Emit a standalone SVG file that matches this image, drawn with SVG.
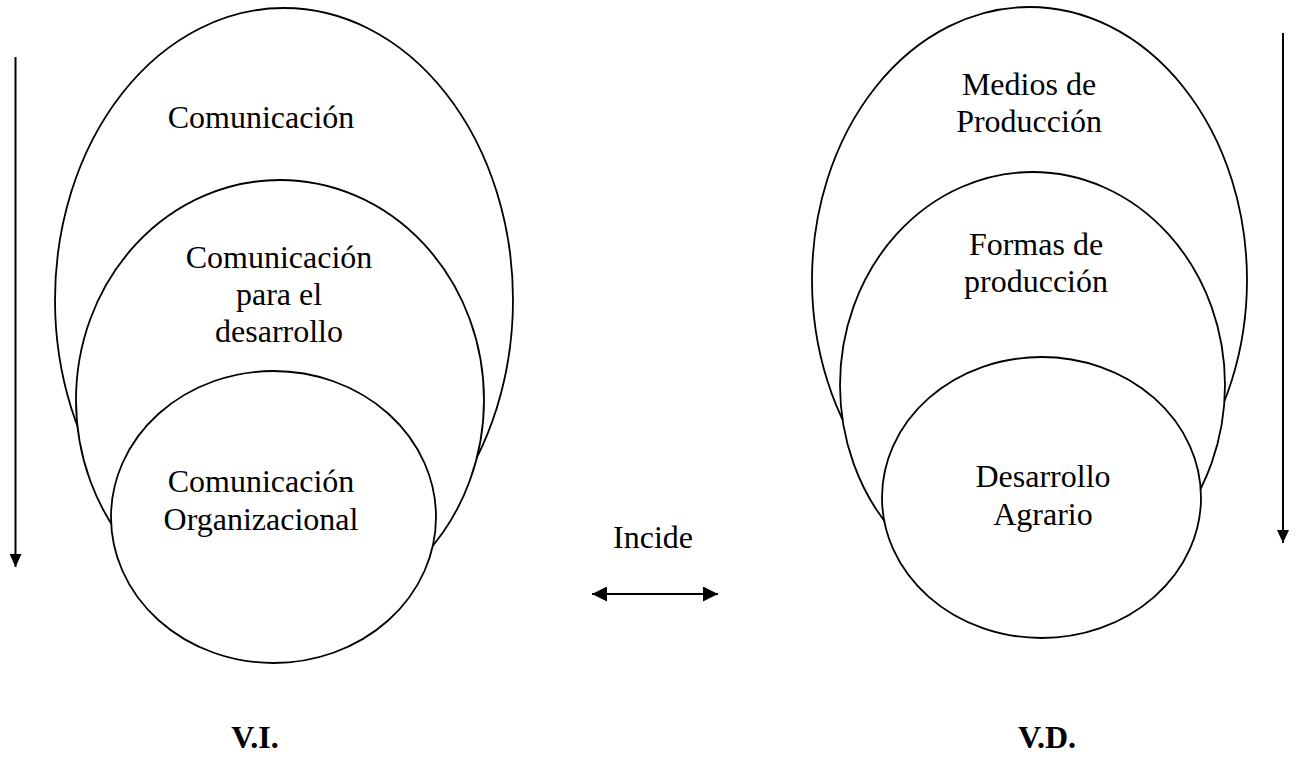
<svg xmlns="http://www.w3.org/2000/svg" width="1303" height="758" viewBox="0 0 1303 758">
<style>
.e{fill:#fff;stroke:#000;stroke-width:1.8}
.t{font-family:"Liberation Serif","Times New Roman",serif;font-size:32px;fill:#000;text-anchor:middle}
.b{font-weight:bold}
.a{stroke:#000;stroke-width:2;fill:none}
</style>
<defs>
<marker id="ah" viewBox="0 0 10 10" refX="10" refY="5" markerWidth="13" markerHeight="12" markerUnits="userSpaceOnUse" orient="auto-start-reverse" preserveAspectRatio="none">
<path d="M0,0 L10,5 L0,10 z" fill="#000"/>
</marker>
<marker id="ah2" viewBox="0 0 10 10" refX="10" refY="5" markerWidth="15" markerHeight="15" markerUnits="userSpaceOnUse" orient="auto-start-reverse">
<path d="M0,0 L10,5 L0,10 z" fill="#000"/>
</marker>
</defs>
<g id="vi-comunicacion"><ellipse class="e" cx="284" cy="300" rx="229" ry="292"/><text class="t" x="261" y="128">Comunicación</text></g>
<g id="vi-desarrollo"><ellipse class="e" cx="280" cy="400" rx="204" ry="220"/><text class="t" x="279" y="268">Comunicación</text><text class="t" x="279" y="305">para el</text><text class="t" x="279" y="342">desarrollo</text></g>
<g id="vi-organizacional"><ellipse class="e" cx="273.5" cy="517" rx="162.5" ry="146"/><text class="t" x="261" y="492">Comunicación</text><text class="t" x="261" y="530">Organizacional</text></g>
<g id="vd-medios"><ellipse class="e" cx="1029.5" cy="280" rx="217.5" ry="273"/><text class="t" x="1029" y="95">Medios de</text><text class="t" x="1029" y="132">Producción</text></g>
<g id="vd-formas"><ellipse class="e" cx="1032.5" cy="385" rx="192.5" ry="213"/><text class="t" x="1036" y="255">Formas de</text><text class="t" x="1036" y="292">producción</text></g>
<g id="vd-agrario"><ellipse class="e" cx="1041.5" cy="497.5" rx="159.5" ry="140.5"/><text class="t" x="1043" y="487">Desarrollo</text><text class="t" x="1043" y="525">Agrario</text></g>
<g id="labels"><text class="t" x="653" y="548">Incide</text><text class="t b" x="255" y="748">V.I.</text><text class="t b" x="1047" y="748">V.D.</text></g>
<g id="connectors">
<line class="a" x1="15.5" y1="57" x2="15.5" y2="567" marker-end="url(#ah)"/>
<line class="a" x1="1283" y1="33" x2="1283" y2="543" marker-end="url(#ah)"/>
<line class="a" x1="592" y1="594" x2="718" y2="594" marker-start="url(#ah2)" marker-end="url(#ah2)"/>
</g>
</svg>
